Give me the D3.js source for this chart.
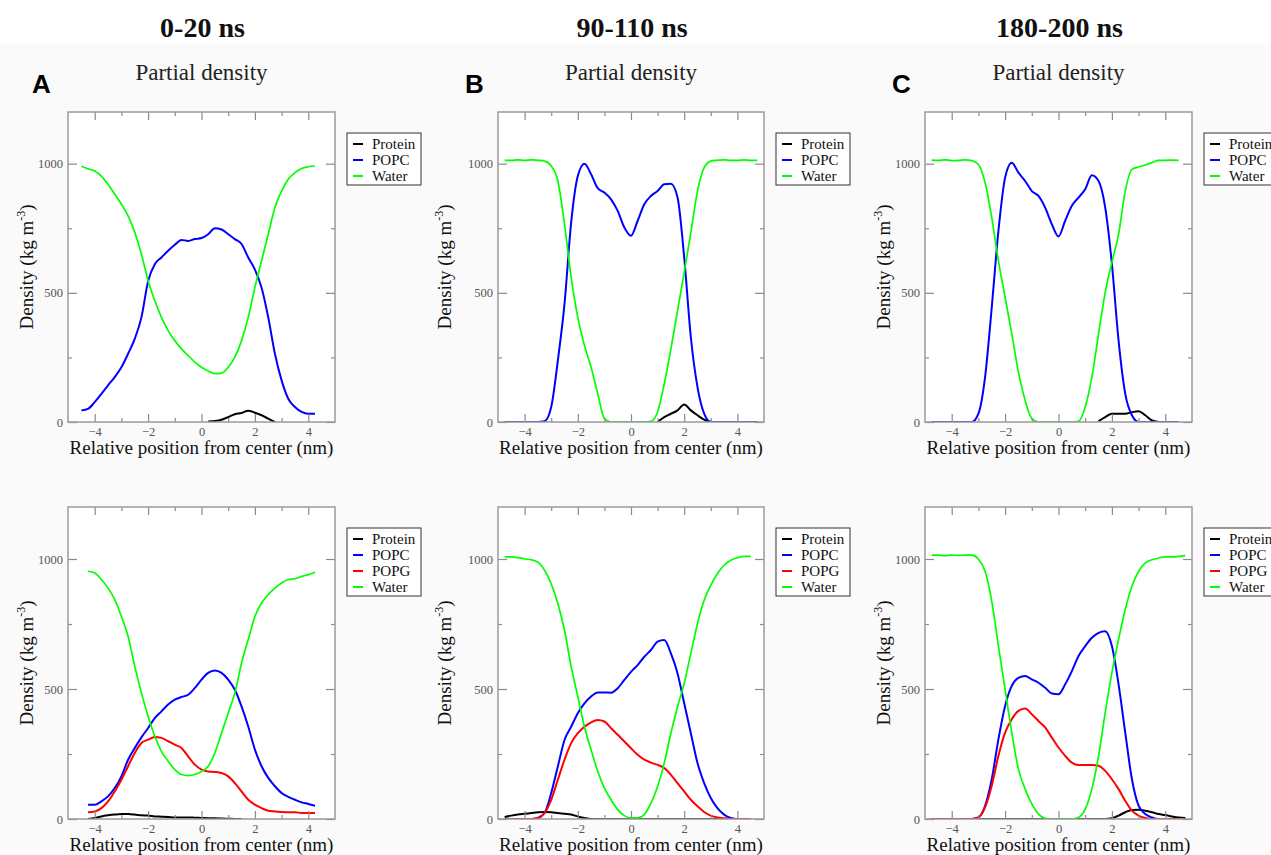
<!DOCTYPE html>
<html><head><meta charset="utf-8">
<script src="https://cdn.jsdelivr.net/npm/d3@7"></script>
<style>body{margin:0;background:#fff} svg{display:block}</style>
</head><body><svg id="c" width="1271" height="855"></svg>
<script>
const _ = null;
// sample positions (nm)
const X = [-4.75,-4.5,-4.25,-4,-3.75,-3.5,-3.25,-3,-2.75,-2.5,-2.25,-2,-1.75,-1.5,-1.25,-1,-0.75,-0.5,-0.25,0,0.25,0.5,0.75,1,1.25,1.5,1.75,2,2.25,2.5,2.75,3,3.25,3.5,3.75,4,4.25,4.5,4.75];
const timeLabels = ["0-20 ns","90-110 ns","180-200 ns"];
const panelLetters = ["A","B","C"];
const subTitle = "Partial density";
const xTitle = "Relative position from center (nm)";
const xMajorTicks = [-4,-2,0,2,4];
const xMinorTicks = [-3,-1,1,3];
const yMajorTicks = [0,500,1000];
const yMinorTicks = [250,750];

// ---- A top (0-20 ns, POPC) ----
const proteinA1 = [_,_,_,_,_,_,_,_,_,_,_,_,_,_,_,_,_,_,_,_,2,4,9,19,30,35,44,36,26,13,0,_,_,_,_,_,_,_,_];
const popcA1    = [_,45,51,77,109,142,174,212,264,322,405,545,611,637,663,686,705,701,708,712,727,750,745,727,708,689,637,590,520,405,264,161,90,58,39,32,32,_,_];
const waterA1   = [_,990,980,972,952,920,882,843,798,734,650,547,470,405,354,315,283,257,232,212,197,187,189,212,251,315,405,521,624,727,830,894,940,965,981,988,991,_,_];
// ---- A bottom (0-20 ns, POPC/POPG) ----
const proteinA2 = [_,_,0,4,10,14,17,19,19,17,14,13,10,9,8,6,6,6,5,4,3,3,2,1,0,0,_,_,_,_,_,_,_,_,_,_,_,_,_];
const popcA2    = [_,_,55,55,68,87,119,164,228,273,314,350,388,414,440,459,469,478,504,536,562,571,562,536,497,433,356,267,203,158,126,100,85,74,64,58,51,_,_];
const popgA2    = [_,_,26,29,42,68,106,151,203,254,292,305,315,312,299,286,273,241,209,190,183,181,177,164,138,106,74,55,42,32,29,27,26,26,23,23,23,_,_];
const waterA2   = [_,_,953,946,921,888,844,779,703,587,485,395,318,260,222,190,171,167,171,183,203,254,331,408,485,600,690,779,831,863,888,908,921,924,933,940,949,_,_];
// ---- B top (90-110 ns, POPC) ----
const proteinB1 = [_,_,_,_,_,_,_,_,_,_,_,_,_,_,_,_,_,_,_,_,_,_,_,0,19,32,45,68,45,26,9,0,_,_,_,_,_,_,_];
const popcB1    = [0,0,0,0,0,0,3,58,238,457,772,952,1000,959,905,888,862,817,753,721,779,843,875,894,920,922,869,637,328,135,32,0,0,0,0,0,0,0,0];
const waterB1   = [1013,1013,1015,1013,1015,1013,1010,991,933,766,560,405,296,212,109,13,0,0,0,0,0,0,3,39,148,283,431,579,734,894,985,1010,1013,1015,1013,1013,1015,1013,1013];
// ---- B bottom (90-110 ns, POPC/POPG) ----
const proteinB2 = [8,13,17,20,23,26,27,26,23,20,17,10,4,0,0,0,0,0,0,0,0,0,0,0,0,0,0,0,0,0,0,0,0,0,0,0,0,0,_];
const popcB2    = [0,0,0,0,0,4,23,100,202,304,355,407,445,471,487,487,486,503,535,566,592,624,650,682,688,637,560,445,330,215,138,81,42,17,4,0,0,0,_];
const popgB2    = [0,0,0,0,0,4,23,74,151,228,292,330,355,372,381,375,349,324,298,272,247,228,217,208,196,170,138,106,74,49,27,13,6,3,0,0,0,0,_];
const waterB2   = [1008,1008,1005,1001,997,988,957,905,829,726,586,471,355,266,183,119,74,36,13,4,4,17,61,125,215,330,432,522,637,752,841,899,944,976,995,1005,1010,1010,_];
// ---- C top (180-200 ns, POPC) ----
const proteinC1 = [_,_,_,_,_,_,_,_,_,_,_,_,_,_,_,_,_,_,_,_,_,_,_,_,_,3,19,32,32,32,38,42,26,6,0,_,_,_,_];
const popcC1    = [0,0,0,0,0,0,0,32,174,444,740,946,1004,965,933,894,875,830,766,718,779,837,869,901,955,933,830,611,315,109,26,0,0,0,0,0,0,0,_];
const waterC1   = [1014,1013,1015,1012,1013,1015,1012,997,927,791,624,483,341,193,84,13,0,0,0,0,0,0,3,58,174,341,502,618,727,894,978,987,995,1004,1013,1013,1014,1013,_];
// ---- C bottom (180-200 ns, POPC/POPG) ----
const proteinC2 = [0,0,0,0,0,0,0,0,0,0,0,0,0,0,0,0,0,0,0,0,0,0,0,0,0,0,0,3,13,26,35,36,32,26,19,15,10,6,4];
const popcC2    = [0,0,0,0,0,0,0,6,51,153,307,435,512,543,550,537,524,505,483,480,518,569,627,665,697,716,722,665,518,332,153,51,19,6,0,0,0,0,0];
const popgC2    = [0,0,0,0,0,0,0,6,45,128,243,332,384,416,425,403,377,352,313,275,243,217,208,208,208,205,185,153,115,70,32,13,4,0,0,0,0,0,0];
const waterC2   = [1015,1015,1013,1015,1014,1015,1015,1000,953,838,665,499,332,192,115,58,19,3,0,0,0,0,6,38,115,243,409,563,691,806,895,953,985,997,1004,1008,1008,1010,1013];

const colors = {Protein:"#000000", POPC:"#0000ff", POPG:"#ff0000", Water:"#00ff00"};

const panels = [
  {col:0,row:0,series:[["Protein",proteinA1],["POPC",popcA1],["Water",waterA1]]},
  {col:0,row:1,series:[["Protein",proteinA2],["POPC",popcA2],["POPG",popgA2],["Water",waterA2]]},
  {col:1,row:0,series:[["Protein",proteinB1],["POPC",popcB1],["Water",waterB1]]},
  {col:1,row:1,series:[["Protein",proteinB2],["POPC",popcB2],["POPG",popgB2],["Water",waterB2]]},
  {col:2,row:0,series:[["Protein",proteinC1],["POPC",popcC1],["Water",waterC1]]},
  {col:2,row:1,series:[["Protein",proteinC2],["POPC",popcC2],["POPG",popgC2],["Water",waterC2]]}
];

const colLeft = [68, 498, 925], colRight = [335, 764, 1192];
const rowTop = [112, 507], rowBottom = [422, 819];
const yTitleOffset = [35, 47, 35];
const serif = "'Liberation Serif','Times New Roman',serif";
const sans = "'Liberation Sans',Arial,sans-serif";

const svg = d3.select("#c");
svg.append("rect").attr("x",0).attr("y",44).attr("width",1271).attr("height",811).attr("fill","#fafafa");

// header texts
timeLabels.forEach((t,i)=>{
  const cx = (colLeft[i]+colRight[i])/2;
  svg.append("text").attr("x",cx+1).attr("y",37).attr("text-anchor","middle")
    .attr("font-family",serif).attr("font-weight","bold").attr("font-size",28).attr("fill","#111").text(t);
  svg.append("text").attr("x",cx).attr("y",80).attr("text-anchor","middle")
    .attr("font-family",serif).attr("font-size",23).attr("fill","#222").text(subTitle);
  svg.append("text").attr("x",colLeft[i]-(i===0?36:33)).attr("y",93)
    .attr("font-family",sans).attr("font-weight","bold").attr("font-size",26).attr("fill","#000").text(panelLetters[i]);
});

panels.forEach((p,pi)=>{
  const L=colLeft[p.col], R=colRight[p.col], T=rowTop[p.row], B=rowBottom[p.row];
  const x = d3.scaleLinear().domain([-5,5]).range([L,R]);
  const y = d3.scaleLinear().domain([0,1200]).range([B,T]);
  const g = svg.append("g");
  g.append("rect").attr("x",L).attr("y",T).attr("width",R-L).attr("height",B-T).attr("fill","#fff");

  const clipId = "clip"+pi;
  svg.append("clipPath").attr("id",clipId).append("rect").attr("x",L).attr("y",T).attr("width",R-L).attr("height",B-T);

  const line = d3.line().defined(d=>d[1]!==null).x(d=>x(d[0])).y(d=>y(d[1])).curve(d3.curveMonotoneX);
  const lg = g.append("g").attr("clip-path",`url(#${clipId})`);
  p.series.forEach(([name,vals])=>{
    lg.append("path").datum(X.map((xv,i)=>[xv,vals[i]]))
      .attr("d",line).attr("fill","none").attr("stroke",colors[name])
      .attr("stroke-width",name==="Water"?1.7:2).attr("stroke-linejoin","round");
  });

  // axes
  const styleAxis = sel => { sel.select(".domain").remove();
    sel.attr("font-size",null).attr("font-family",null);
    sel.selectAll(".tick line").attr("stroke","#8a8a8a").attr("stroke-width",1.2);
    sel.selectAll(".tick text").style("font-family",serif).style("font-size","12.5px").style("fill","#555"); };
  g.append("g").attr("transform",`translate(0,${B})`)
    .call(d3.axisBottom(x).tickValues(xMajorTicks).tickSize(-8).tickPadding(5).tickFormat(d3.format("d"))).call(styleAxis);
  g.append("g").attr("transform",`translate(0,${B})`)
    .call(d3.axisBottom(x).tickValues(xMinorTicks).tickSize(-4).tickFormat("")).call(styleAxis);
  g.append("g").attr("transform",`translate(0,${T})`)
    .call(d3.axisTop(x).tickValues(xMajorTicks).tickSize(-8).tickFormat("")).call(styleAxis);
  g.append("g").attr("transform",`translate(0,${T})`)
    .call(d3.axisTop(x).tickValues(xMinorTicks).tickSize(-4).tickFormat("")).call(styleAxis);
  g.append("g").attr("transform",`translate(${L},0)`)
    .call(d3.axisLeft(y).tickValues(yMajorTicks).tickSize(-9).tickPadding(5).tickFormat(d3.format("d"))).call(styleAxis);
  g.append("g").attr("transform",`translate(${L},0)`)
    .call(d3.axisLeft(y).tickValues(yMinorTicks).tickSize(-4).tickFormat("")).call(styleAxis);
  g.append("g").attr("transform",`translate(${R},0)`)
    .call(d3.axisRight(y).tickValues(yMajorTicks).tickSize(-9).tickFormat("")).call(styleAxis);
  g.append("g").attr("transform",`translate(${R},0)`)
    .call(d3.axisRight(y).tickValues(yMinorTicks).tickSize(-4).tickFormat("")).call(styleAxis);

  g.append("rect").attr("x",L).attr("y",T).attr("width",R-L).attr("height",B-T)
    .attr("fill","none").attr("stroke","#9a9a9a").attr("stroke-width",1.5);

  // axis titles
  g.append("text").attr("x",(L+R)/2).attr("y",B+32).attr("text-anchor","middle")
    .attr("font-family",serif).attr("font-size",19).attr("fill","#111").text(xTitle);
  const yt = g.append("text").attr("transform",`translate(${L-yTitleOffset[p.col]},${(T+B)/2}) rotate(-90)`)
    .attr("text-anchor","middle").attr("font-family",serif).attr("font-size",19).attr("fill","#111");
  yt.append("tspan").text("Density (kg m");
  yt.append("tspan").attr("dy",-8).attr("font-size",12).text("-3");
  yt.append("tspan").attr("dy",8).text(")");

  // legend
  const lx = R+12, ly = T+21, n = p.series.length;
  const leg = g.append("g");
  leg.append("rect").attr("x",lx).attr("y",ly).attr("width",74).attr("height",n*16+4)
    .attr("fill","#fff").attr("stroke","#333").attr("stroke-width",1);
  p.series.forEach(([name],i)=>{
    const cy = ly+11+i*16;
    leg.append("line").attr("x1",lx+6).attr("x2",lx+16).attr("y1",cy).attr("y2",cy)
      .attr("stroke",colors[name]).attr("stroke-width",2);
    leg.append("text").attr("x",lx+25).attr("y",cy+5).attr("font-family",serif)
      .attr("font-size",15).attr("fill","#111").text(name);
  });
});
</script></body></html>
